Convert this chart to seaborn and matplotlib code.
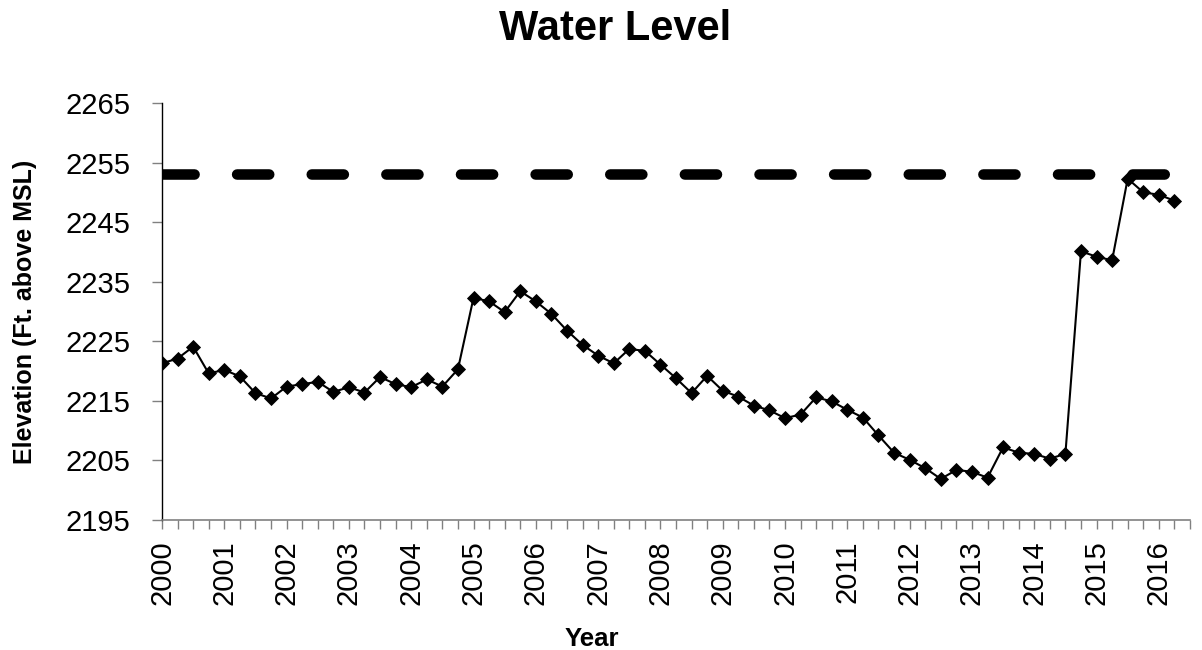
import numpy as np
import pandas as pd
import matplotlib
matplotlib.use("Agg")
import matplotlib.pyplot as plt
import seaborn as sns

# ---- data (quarterly readings, 2000 Q1 .. 2016 Q2) ----
years = [str(y) for y in range(2000, 2017)]
quarters_per_year = 4
n_categories = 67  # axis categories (last one has no reading)

elevation = [
    2221.3, 2222.1, 2224.1, 2219.6, 2220.2, 2219.1, 2216.3, 2215.4,
    2217.4, 2217.8, 2218.2, 2216.5, 2217.3, 2216.4, 2219.0, 2217.8,
    2217.3, 2218.6, 2217.4, 2220.3,
    2232.3, 2231.7, 2229.9, 2233.4, 2231.7, 2229.6, 2226.8, 2224.4,
    2222.6, 2221.3, 2223.7, 2223.4, 2221.1, 2218.8, 2216.3, 2219.2,
    2216.7, 2215.7, 2214.2, 2213.4, 2212.1, 2212.7, 2215.6, 2214.9,
    2213.5, 2212.2, 2209.2, 2206.3, 2205.1, 2203.7, 2201.9, 2203.4,
    2203.1, 2202.1, 2207.2, 2206.3, 2206.1, 2205.3, 2206.1, 2240.1,
    2239.2, 2238.6, 2252.3, 2250.0, 2249.6, 2248.6,
]
reference_level = 2253
y_ticks = [2195, 2205, 2215, 2225, 2235, 2245, 2255, 2265]

title = "Water Level"
x_label = "Year"
y_label = "Elevation (Ft. above MSL)"

df = pd.DataFrame({"q": np.arange(len(elevation)), "elev": elevation})

# ---- style ----
sns.set_style("white")
plt.rcParams["font.family"] = ["Liberation Sans", "DejaVu Sans"]
plt.rcParams["text.color"] = "black"
plt.rcParams["axes.labelcolor"] = "black"
plt.rcParams["xtick.labelcolor"] = "black"
plt.rcParams["ytick.labelcolor"] = "black"

fig = plt.figure(figsize=(12.02, 6.5), dpi=100)
ax = fig.add_axes([162 / 1202, 1 - 520 / 650, (1190 - 162) / 1202, (520 - 103) / 650])

# reference (dashed) line
ax.hlines(reference_level, 0, n_categories - 1, colors="black", linewidth=7.6,
          linestyles=(0, (3.04, 4.03)), capstyle="round", zorder=2)

sns.lineplot(data=df, x="q", y="elev", ax=ax, color="black", linewidth=1.5,
             marker="D", markersize=7, markeredgewidth=0.6,
             markeredgecolor="black", markerfacecolor="black", zorder=3)

ax.set_xlim(0, n_categories - 1)
ax.set_ylim(y_ticks[0], y_ticks[-1])
ax.set_yticks(y_ticks)
ax.set_yticklabels([str(v) for v in y_ticks])

xt = list(range(n_categories))
xl = [years[i // quarters_per_year] if (i % quarters_per_year == 0 and i // quarters_per_year < len(years)) else "" for i in xt]
ax.set_xticks(xt)
ax.set_xticklabels(xl, rotation=90)

ax.tick_params(axis="y", direction="out", length=7, width=1, color="#808080",
               labelcolor="black", pad=16, labelsize=21, left=True)
ax.tick_params(axis="x", direction="out", length=6.5, width=1, color="#808080",
               labelcolor="black", pad=8, labelsize=21, bottom=True)

for s in ["top", "right"]:
    ax.spines[s].set_visible(False)
ax.spines["left"].set_color("black")
ax.spines["left"].set_linewidth(1)
ax.spines["bottom"].set_color("#808080")
ax.spines["bottom"].set_linewidth(1.2)

ax.set_xlabel(x_label, fontsize=18.5, fontweight="bold", color="black")
ax.xaxis.set_label_coords((592 - 162) / 1028, (520 - 627) / 417)
ax.set_ylabel(y_label, fontsize=18, fontweight="bold", color="black")
ax.yaxis.set_label_coords((37 - 162) / 1028, 0.5)
ax.set_title(title, fontsize=30, fontweight="bold", color="black",
             x=(615 - 162) / 1028, y=(520 - 40) / 417, va="baseline", pad=0)

fig.savefig("out.png", dpi=100)
